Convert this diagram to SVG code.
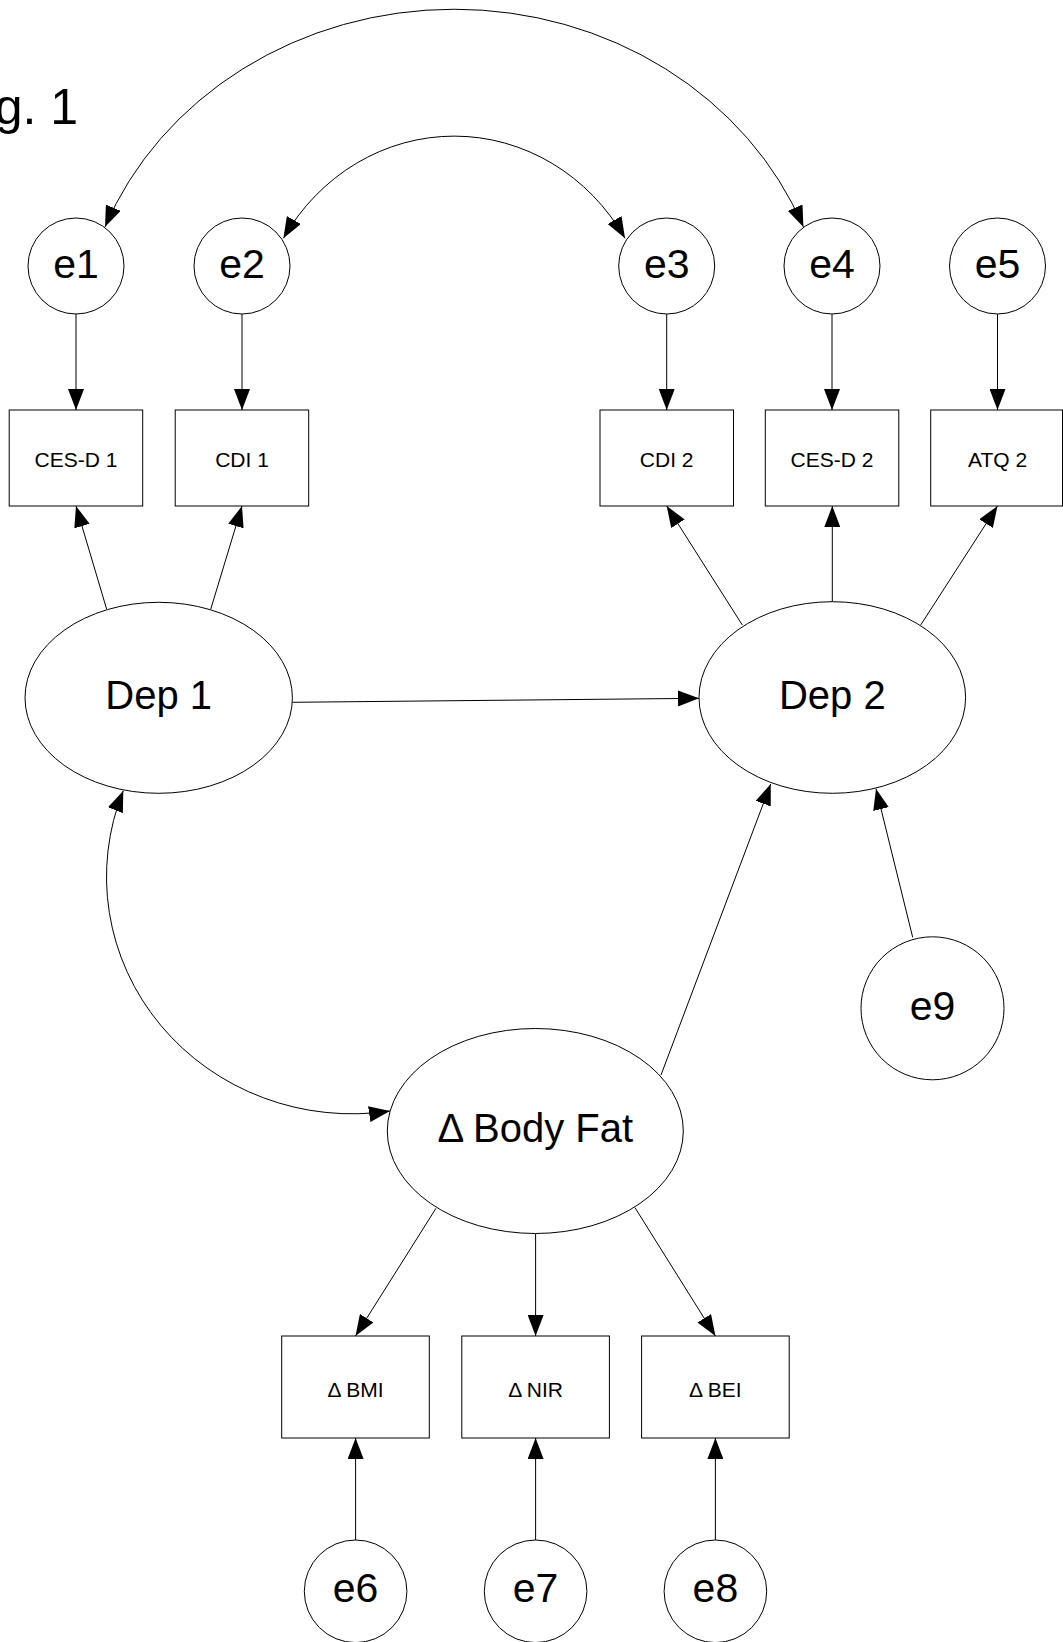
<svg xmlns="http://www.w3.org/2000/svg" width="1063" height="1642" viewBox="0 0 1063 1642">
<style>
.n{fill:#fff;stroke:#000;stroke-width:1}
.c{fill:none;stroke:#000;stroke-width:1}
.a{marker-end:url(#ah)}
.b{marker-start:url(#ah);marker-end:url(#ah)}
.t{font-family:"Liberation Sans",Arial,sans-serif;fill:#000;text-anchor:middle}
.big{font-size:41px}
.lat{font-size:40px}
.sm{font-size:21px}
</style>
<defs>
<marker id="ah" markerUnits="userSpaceOnUse" markerWidth="21" markerHeight="16" viewBox="0 0 21 16" refX="21" refY="8" orient="auto-start-reverse">
<path d="M0,0 L21,8 L0,16 z" fill="#000"/>
</marker>
</defs>
<rect width="1063" height="1642" fill="#fff"/>
<text class="t" x="-47" y="124" style="font-size:50px;text-anchor:start">Fig. 1</text>

<g id="connectors">
<path class="c b" d="M105,227 A374.9 342.3 0 0 1 803.4,227"/>
<path class="c b" d="M283.4,238.3 A200 213 0 0 1 625,238.3"/>
<path class="c b" d="M123.3,790.7 A245.7 237 0 0 0 390,1111"/>
<line class="c a" x1="76" y1="314" x2="76" y2="410"/>
<line class="c a" x1="242" y1="314" x2="242" y2="410"/>
<line class="c a" x1="666.7" y1="314" x2="666.7" y2="410"/>
<line class="c a" x1="832" y1="314" x2="832" y2="410"/>
<line class="c a" x1="997.5" y1="314" x2="997.5" y2="410"/>
<line class="c a" x1="106.7" y1="609.3" x2="76" y2="506"/>
<line class="c a" x1="210.7" y1="609.3" x2="242" y2="506"/>
<line class="c a" x1="742.3" y1="625" x2="666.7" y2="506"/>
<line class="c a" x1="832.3" y1="601.7" x2="832.3" y2="506"/>
<line class="c a" x1="920.7" y1="625" x2="997.5" y2="506"/>
<line class="c a" x1="292.3" y1="702.3" x2="699" y2="698.3"/>
<line class="c a" x1="661" y1="1075" x2="770.7" y2="784"/>
<line class="c a" x1="912.7" y1="937.3" x2="876" y2="788.7"/>
<line class="c a" x1="436" y1="1208.3" x2="355.5" y2="1336"/>
<line class="c a" x1="535.6" y1="1234" x2="535.6" y2="1336"/>
<line class="c a" x1="635" y1="1207.7" x2="715.4" y2="1336"/>
<line class="c a" x1="355.6" y1="1540" x2="355.6" y2="1438"/>
<line class="c a" x1="535.6" y1="1540" x2="535.6" y2="1438"/>
<line class="c a" x1="715.4" y1="1540" x2="715.4" y2="1438"/>
</g>

<g id="e1"><circle class="n" cx="76" cy="266" r="48"/><text class="t big" x="76" y="277.5">e1</text></g>
<g id="e2"><circle class="n" cx="242" cy="266" r="48"/><text class="t big" x="242" y="277.5">e2</text></g>
<g id="e3"><circle class="n" cx="666.7" cy="266" r="48"/><text class="t big" x="666.7" y="277.5">e3</text></g>
<g id="e4"><circle class="n" cx="832" cy="266" r="48"/><text class="t big" x="832" y="277.5">e4</text></g>
<g id="e5"><circle class="n" cx="997.5" cy="266" r="48"/><text class="t big" x="997.5" y="277.5">e5</text></g>

<g id="cesd1"><rect class="n" x="9.2" y="410" width="133.5" height="96"/><text class="t sm" x="76" y="467.3">CES-D 1</text></g>
<g id="cdi1"><rect class="n" x="175.2" y="410" width="133.5" height="96"/><text class="t sm" x="242" y="467.3">CDI 1</text></g>
<g id="cdi2"><rect class="n" x="600" y="410" width="133.5" height="96"/><text class="t sm" x="666.7" y="467.3">CDI 2</text></g>
<g id="cesd2"><rect class="n" x="765.3" y="410" width="133.5" height="96"/><text class="t sm" x="832" y="467.3">CES-D 2</text></g>
<g id="atq2"><rect class="n" x="930.7" y="410" width="131.8" height="96"/><text class="t sm" x="997.5" y="467.3">ATQ 2</text></g>

<g id="dep1"><ellipse class="n" cx="158.7" cy="697.8" rx="133.7" ry="95.5"/><text class="t lat" x="158.7" y="709">Dep 1</text></g>
<g id="dep2"><ellipse class="n" cx="832.3" cy="697.5" rx="133.3" ry="95.8"/><text class="t lat" x="832.3" y="709">Dep 2</text></g>
<g id="e9"><circle class="n" cx="932.5" cy="1008.3" r="71.5"/><text class="t big" x="932.5" y="1020">e9</text></g>
<g id="bodyfat"><ellipse class="n" cx="535.3" cy="1131" rx="148" ry="102.5"/><text class="t lat" x="535.3" y="1142.3">Δ Body Fat</text></g>

<g id="dbmi"><rect class="n" x="281.7" y="1336" width="147.6" height="102"/><text class="t sm" x="355.5" y="1396.7">Δ BMI</text></g>
<g id="dnir"><rect class="n" x="461.8" y="1336" width="147.6" height="102"/><text class="t sm" x="535.6" y="1396.7">Δ NIR</text></g>
<g id="dbei"><rect class="n" x="641.6" y="1336" width="147.6" height="102"/><text class="t sm" x="715.4" y="1396.7">Δ BEI</text></g>

<g id="e6"><circle class="n" cx="355.6" cy="1591.3" r="51.3"/><text class="t big" x="355.6" y="1602">e6</text></g>
<g id="e7"><circle class="n" cx="535.6" cy="1591.3" r="51.3"/><text class="t big" x="535.6" y="1602">e7</text></g>
<g id="e8"><circle class="n" cx="715.4" cy="1591.3" r="51.3"/><text class="t big" x="715.4" y="1602">e8</text></g>
</svg>
